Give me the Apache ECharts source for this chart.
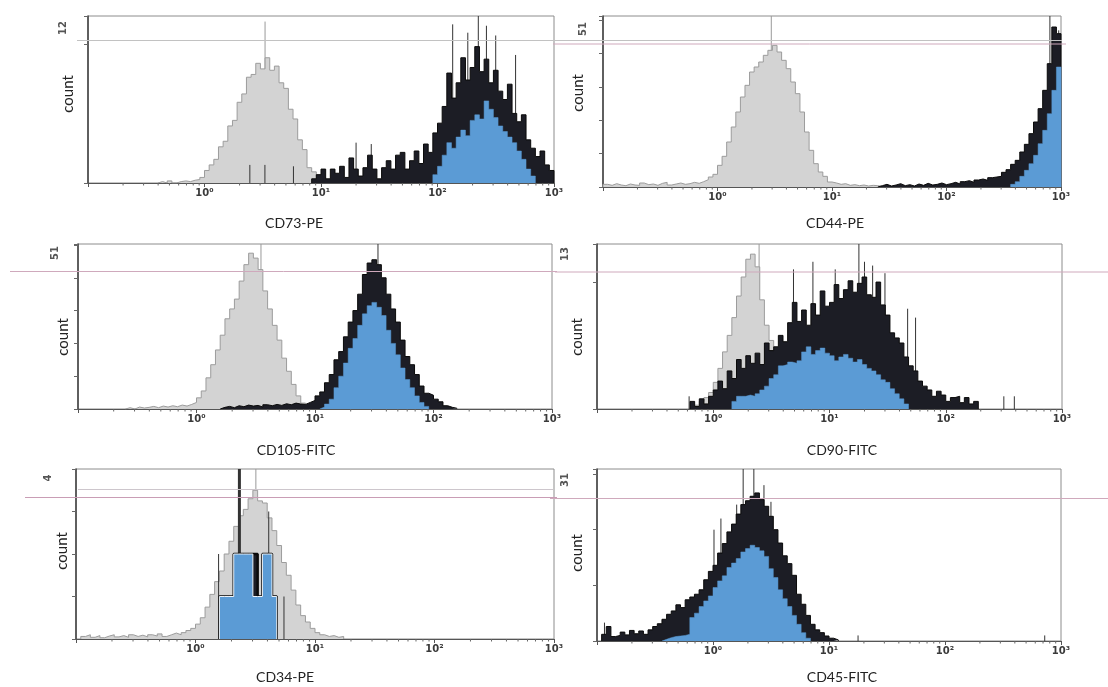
<!DOCTYPE html>
<html><head><meta charset="utf-8">
<script src="https://cdn.jsdelivr.net/npm/echarts@6/dist/echarts.min.js"></script>
<style>html,body{margin:0;padding:0;background:#fff}#c{width:1108px;height:687px}</style>
</head><body><div id="c"></div><script>
// ---------- DATA (bin width in log10 units; each array starts at its *Start decade) ----------
const BIN = 0.04;
const xTickLabels = ['10\u2070', '10\u00b9', '10\u00b2', '10\u00b3'];
const panelTitles = ['CD73-PE', 'CD44-PE', 'CD105-FITC', 'CD90-FITC', 'CD34-PE', 'CD45-FITC'];
const yTopLabels = ['12', '51', '51', '13', '4', '31'];

// CD73-PE
const cd73IsoStart = -0.40;
const cd73Iso = [0.1,0,0.15,0,0.1,0.15,0.1,0.2,0.25,0.4,0.9,1.3,1.7,2.6,3.0,4.1,4.5,5.8,6.4,7.6,7.8,8.6,8.2,9.0,8.1,8.4,7.2,6.8,5.3,4.6,3.1,2.4,1.1,0.8,0.3,0.4,0.1,0.2];
const cd73PosStart = 0.92;
const cd73Pos = [0.3,0.6,1.0,0.3,1.0,0.7,1.2,0.4,1.8,1.0,0.5,1.1,2.0,1.0,0.3,1.1,1.6,1.0,2.0,2.2,1.0,1.6,2.3,1.4,2.8,2.2,3.6,4.3,5.5,7.9,6.1,7.2,9.0,7.4,8.3,9.8,8.0,8.9,7.2,8.1,6.6,6.0,7.1,5.0,4.4,4.9,3.1,2.5,1.9,2.3,1.3,0.9];
const cd73BlueStart = 1.96;
const cd73Blue = [0.6,1.2,2.0,2.9,2.5,3.3,3.8,3.4,4.5,4.9,4.6,5.9,5.3,4.7,4.1,3.7,3.3,2.9,2.3,1.7,1.0,0.5];
const cd73IsoSpikes = [[3.31, 11.6]];
const cd73PosSpikes = [[2.45, 1.3], [3.3, 1.3], [5.8, 1.2], [20, 2.9], [27, 2.8], [135, 11.4], [182, 10.8], [224, 12.6], [263, 11.3], [316, 10.6], [468, 9.2]];

// CD44-PE
const cd44IsoStart = -1.00;
const cd44Iso = [0.8,0.5,1.0,0.6,0.4,0.9,0.6,0.5,1.2,0.7,0.9,0.5,1.1,1.4,0.6,0.9,1.2,0.8,1.0,1.4,1.1,1.6,2.2,3.0,3.8,6.5,9.2,13.5,18.0,22.5,27.0,30.5,34.5,36.0,37.5,39.5,41.0,42.5,40.5,38.0,35.5,31.5,28.0,22.5,16.5,11.0,7.0,4.5,3.2,1.5,1.2,0.8,1.0,0.5,0.7,0.4,0.6,0.3,0.5,0.4,0.2];
const cd44PosStart = 1.40;
const cd44Pos = [0.4,0.8,0.3,0.6,1.0,0.4,0.7,0.3,0.9,0.5,1.1,0.6,0.8,1.2,0.7,1.0,1.4,0.9,1.6,1.9,1.4,2.1,2.4,2.0,2.8,3.0,3.2,4.4,5.2,6.8,8.0,10.5,12.8,16.0,19.5,23.5,29.0,37.0,48.0,46.0];
const cd44BlueStart = 2.56;
const cd44Blue = [0.8,1.6,3.2,5.0,7.0,9.5,13.0,17.0,22.0,29.0,36.0];
const cd44IsoSpikes = [[2.95, 51.3]];
const cd44PosSpikes = [[800, 51.3], [955, 47]];

// CD105-FITC
const cd105IsoStart = -0.60;
const cd105Iso = [0.4,0,0.6,0.3,0.5,0.8,0.4,0.9,0.6,1.0,0.7,1.2,0.9,1.4,2.0,3.4,5.5,9.5,13.5,18.0,22.5,27.5,30.5,33.5,39.0,44.0,47.5,46.0,42.5,36.0,30.5,25.5,21.0,15.5,11.5,7.5,4.0,1.8,0.8,0.4];
const cd105PosStart = 0.20;
const cd105Pos = [0.5,0.8,0.4,1.0,0.7,1.2,0.9,1.1,0.6,1.3,1.0,1.4,1.1,1.6,1.3,1.8,1.5,1.4,2.0,2.6,4.0,5.2,8.0,10.5,15.0,17.5,22.0,26.5,30.0,35.0,41.0,44.5,45.5,44.0,40.0,35.0,30.5,26.5,21.0,16.0,13.5,10.5,7.0,4.8,4.2,3.0,2.2,1.0,0.5,0.2];
const cd105BlueStart = 1.04;
const cd105Blue = [0.6,1.5,3.0,6.5,10.0,14.0,18.5,21.5,25.5,29.0,31.5,32.5,31.0,28.5,24.0,20.0,16.5,12.5,9.0,6.5,4.0,2.0,0.8];
const cd105IsoSpikes = [[3.5, 50.3]];
const cd105PosSpikes = [[34, 50.3]];

// CD90-FITC
const cd90IsoStart = -0.16;
const cd90Iso = [0.3,0.6,0.9,1.3,2.1,3.2,4.5,5.8,7.2,8.9,10.4,11.8,12.2,11.2,8.6,6.6,5.4,4.3,3.1,2.0,1.0,0.4];
const cd90PosStart = -0.20;
const cd90Pos = [0.6,0.2,0.8,0.4,1.0,1.5,2.2,1.6,3.0,2.4,3.9,3.2,4.2,3.6,4.4,3.5,5.2,4.6,4.9,5.8,5.3,6.8,8.4,6.9,7.8,6.6,8.3,7.4,9.3,8.1,8.4,9.8,8.7,9.4,10.1,9.2,9.9,10.4,9.0,8.8,10.0,8.2,7.4,6.0,5.6,5.2,4.1,3.4,3.0,2.2,1.8,1.5,1.0,1.4,1.1,0.6,0.9,1.0,0.5,0.9,0.4,0.6];
const cd90BlueStart = 0.16;
const cd90Blue = [0.6,1.0,1.0,1.1,1.0,1.2,1.5,1.8,2.4,2.7,3.4,3.5,3.7,3.6,3.8,4.5,4.9,4.3,4.6,4.8,4.4,4.2,3.8,4.1,4.3,4.0,3.7,3.9,3.5,3.2,3.0,2.7,2.3,2.1,1.6,1.2,0.8,0.4];
const cd90IsoSpikes = [[2.48, 13]];
const cd90PosSpikes = [[17.9, 13], [4.9, 11], [7.2, 11.6], [11.2, 11], [20, 11.6], [23.5, 11.3], [30, 10.7], [47, 7.9], [55, 7.2], [0.62, 1.0], [316, 1.0], [389, 1.0]];

// CD34-PE
const cd34IsoStart = -0.96;
const cd34Iso = [0.06,0.1,0.04,0.08,0.03,0.07,0.1,0.05,0.08,0.04,0.1,0.06,0.09,0.05,0.1,0.07,0.12,0.06,0.1,0.14,0.1,0.15,0.2,0.25,0.35,0.5,0.75,1.05,1.35,1.6,2.0,2.3,2.65,2.9,3.05,3.3,3.5,3.25,3.2,2.85,2.55,2.2,1.8,1.5,1.15,0.8,0.55,0.4,0.25,0.15,0.1,0.06,0.08,0.04,0.06];
const cd34PosStart = 0.20;
const cd34Pos = [1,1,1,2,2,2,2,2,1,2,2,1];
const cd34BlueStart = 0.20;
const cd34Blue = [1,1,1,2,2,2,2,1,1,2,2,1];
const cd34IsoSpikes = [[3.2, 4]];
const cd34PosSpikes = [[2.33, 4, 3], [4.1, 3], [5.5, 1], [1.56, 2]];

// CD45-FITC
const cd45PosStart = -0.96;
const cd45Pos = [1.2,2.6,0.8,1.0,1.6,1.1,1.9,1.3,1.8,1.2,2.0,2.6,3.1,3.9,4.8,5.4,6.5,6.0,7.4,7.9,8.4,9.2,11.0,12.5,13.6,15.8,17.5,19.6,21.0,22.8,24.5,25.2,26.0,26.6,25.4,24.2,22.4,20.0,17.6,15.3,13.9,11.8,8.4,6.6,4.6,3.0,2.0,1.5,0.9,0.5,0.2];
const cd45BlueStart = -0.44;
const cd45Blue = [0.3,0.6,0.8,0.9,1.0,1.2,4.2,5.0,6.2,7.2,8.1,9.6,10.8,11.7,13.2,14.0,14.8,16.0,16.6,17.2,16.8,16.2,15.2,13.0,11.4,9.2,7.6,6.2,4.6,3.0,1.5,0.5];
const cd45PosSpikes = [[1.82, 30.9], [2.25, 30.9], [0.116, 3.3], [1.02, 20], [1.17, 22], [1.6, 24.5], [2.75, 28], [3.16, 25], [17.8, 1.0], [724, 1.0]];

const yMax = [12, 51.3, 50.3, 13, 4, 30.9];
const yInterval = [10, 10, 10, 10, 1, 10];
const minorMultipliers = [2, 3, 4, 5, 6, 7, 8, 9];

// ---------- LAYOUT ----------
const grids = [
  {left: 88, top: 16, width: 466, height: 167},
  {left: 603, top: 16, width: 458, height: 171},
  {left: 78, top: 244, width: 474, height: 165},
  {left: 597, top: 244, width: 465, height: 165},
  {left: 76, top: 469, width: 478, height: 170},
  {left: 597, top: 469, width: 464, height: 172}
];
const countPos = [[68, 94], [578, 93], [63, 337], [577, 337], [62, 551], [577, 553]];
const titlePos = [[294, 223], [835, 223], [296, 450], [842, 450], [285, 677], [842, 677]];
const topLabelPos = [[63, 28], [583, 29], [55, 253], [565, 254], [48, 478], [565, 480]];

const panels = [
  {iso: [cd73IsoStart, cd73Iso], pos: [cd73PosStart, cd73Pos], blue: [cd73BlueStart, cd73Blue], isoSp: cd73IsoSpikes, posSp: cd73PosSpikes},
  {iso: [cd44IsoStart, cd44Iso], pos: [cd44PosStart, cd44Pos], blue: [cd44BlueStart, cd44Blue], isoSp: cd44IsoSpikes, posSp: cd44PosSpikes},
  {iso: [cd105IsoStart, cd105Iso], pos: [cd105PosStart, cd105Pos], blue: [cd105BlueStart, cd105Blue], isoSp: cd105IsoSpikes, posSp: cd105PosSpikes},
  {iso: [cd90IsoStart, cd90Iso], pos: [cd90PosStart, cd90Pos], blue: [cd90BlueStart, cd90Blue], isoSp: cd90IsoSpikes, posSp: cd90PosSpikes},
  {iso: [cd34IsoStart, cd34Iso], pos: [cd34PosStart, cd34Pos], blue: [cd34BlueStart, cd34Blue], isoSp: cd34IsoSpikes, posSp: cd34PosSpikes, outlined: true},
  {iso: null, pos: [cd45PosStart, cd45Pos], blue: [cd45BlueStart, cd45Blue], isoSp: [], posSp: cd45PosSpikes}
];

function hist(start, vals) {
  const pts = [[Math.pow(10, start), 0]];
  vals.forEach((v, i) => pts.push([Math.pow(10, start + i * BIN), v]));
  pts.push([Math.pow(10, start + vals.length * BIN), 0]);
  return pts;
}
function stepSeries(gi, h, lineColor, lineWidth, fill, z) {
  return {type: 'line', xAxisIndex: gi, yAxisIndex: gi, data: hist(h[0], h[1]), step: 'end',
    symbol: 'none', showSymbol: false, silent: true, z: z, animation: false,
    lineStyle: {color: lineColor, width: lineWidth}, areaStyle: {color: fill, opacity: 1}};
}
function spikeSeries(gi, data, color, z, ymax) {
  return {type: 'custom', xAxisIndex: gi, yAxisIndex: gi, z: z, silent: true, animation: false,
    data: data.map(d => [d[0], d[1], d[2] || 1]),
    encode: {x: 0, y: 1},
    renderItem: (p, api) => {
      const a = api.coord([api.value(0), 0]);
      const b = api.coord([api.value(0), Math.min(api.value(1), ymax)]);
      return {type: 'line', shape: {x1: a[0], y1: a[1], x2: b[0], y2: b[1]},
        style: {stroke: color, lineWidth: api.value(2) || 1}};
    }};
}
function minorTickSeries(gi) {
  const d = [];
  for (let e = -1; e <= 2; e++) minorMultipliers.forEach(k => d.push([k * Math.pow(10, e), 0]));
  return {type: 'custom', xAxisIndex: gi, yAxisIndex: gi, z: 8, silent: true, clip: false, animation: false,
    data: d, encode: {x: 0, y: 1},
    renderItem: (p, api) => {
      const a = api.coord([api.value(0), 0]);
      return {type: 'line', shape: {x1: a[0], y1: a[1], x2: a[0], y2: a[1] + 2.5},
        style: {stroke: '#666', lineWidth: 1}};
    }};
}

const option = {animation: false, backgroundColor: '#fff', grid: [], xAxis: [], yAxis: [], series: [], graphic: []};

grids.forEach((g, i) => {
  option.grid.push(Object.assign({show: true, borderColor: '#8c8c8c', borderWidth: 1, backgroundColor: 'transparent'}, g));
  option.xAxis.push({type: 'log', logBase: 10, gridIndex: i, min: 0.1, max: 1000,
    axisLine: {show: true, lineStyle: {color: '#555', width: 1}},
    axisTick: {show: true, inside: false, length: 4, lineStyle: {color: '#555'}},
    splitLine: {show: false}, minorTick: {show: false},
    axisLabel: {show: true, margin: 5, fontSize: 10, fontWeight: 'bold', color: '#3a3a3a', fontFamily: 'DejaVu Sans',
      formatter: v => { const e = Math.round(Math.log10(v)); return e >= 0 ? xTickLabels[e] : ''; }}});
  option.yAxis.push({type: 'value', gridIndex: i, min: 0, max: yMax[i], interval: yInterval[i],
    axisLine: {show: true, lineStyle: {color: '#3c3c3c', width: 1.5}},
    axisTick: {show: true, inside: false, length: 4, lineStyle: {color: '#666'}},
    axisLabel: {show: false}, splitLine: {show: false}});

  const p = panels[i];
  if (p.isoSp.length) option.series.push(spikeSeries(i, p.isoSp, '#9a9a9a', 1, yMax[i]));
  if (p.iso) option.series.push(stepSeries(i, p.iso, '#9c9c9c', 1, '#d3d3d3', 2));
  option.series.push(spikeSeries(i, p.posSp, '#333', 3, yMax[i]));
  option.series.push(stepSeries(i, p.pos, '#0a0a0a', p.outlined ? 2.5 : 1, '#1c1d25', 4));
  option.series.push(stepSeries(i, p.blue, p.outlined ? '#eef3f8' : '#5b9bd5', p.outlined ? 1 : 0.5, '#5b9bd5', 5));
  option.series.push(minorTickSeries(i));

  option.graphic.push({type: 'text', x: countPos[i][0], y: countPos[i][1], rotation: Math.PI / 2, silent: true,
    style: {text: 'count', font: '15px Lato', fill: '#222', align: 'center', verticalAlign: 'middle', textAlign: 'center', textVerticalAlign: 'middle'}});
  option.graphic.push({type: 'text', x: titlePos[i][0], y: titlePos[i][1], silent: true,
    style: {text: panelTitles[i], font: '14px Lato', fill: '#222', align: 'center', verticalAlign: 'middle', textAlign: 'center', textVerticalAlign: 'middle'}});
  option.graphic.push({type: 'text', x: topLabelPos[i][0], y: topLabelPos[i][1], rotation: Math.PI / 2, silent: true,
    style: {text: yTopLabels[i], font: 'bold 10px DejaVu Sans', fill: '#555', align: 'center', verticalAlign: 'middle', textAlign: 'center', textVerticalAlign: 'middle'}});
});

// scan artefact guide lines
const guideLines = [
  [77, 40.5, 560, 40.5, '#c2c2c2'], [553, 40.5, 1062, 40.5, '#c2c2c2'], [553, 44, 1066, 44, '#cfa9bc'],
  [10, 271.5, 557, 271.5, '#cfa9bc'], [555, 272, 1108, 272, '#cfa9bc'],
  [78, 489.5, 553, 489.5, '#cdc6cc'], [25, 497.5, 557, 497.5, '#c99db5'], [550, 498.5, 1108, 498.5, '#cfa9bc']
];
guideLines.forEach(l => option.graphic.push({type: 'line', silent: true, z: 50,
  shape: {x1: l[0], y1: l[1], x2: l[2], y2: l[3]}, style: {stroke: l[4], lineWidth: 1}}));

const chart = echarts.init(document.getElementById('c'), null, {renderer: 'canvas'});
chart.setOption(option);
</script></body></html>
